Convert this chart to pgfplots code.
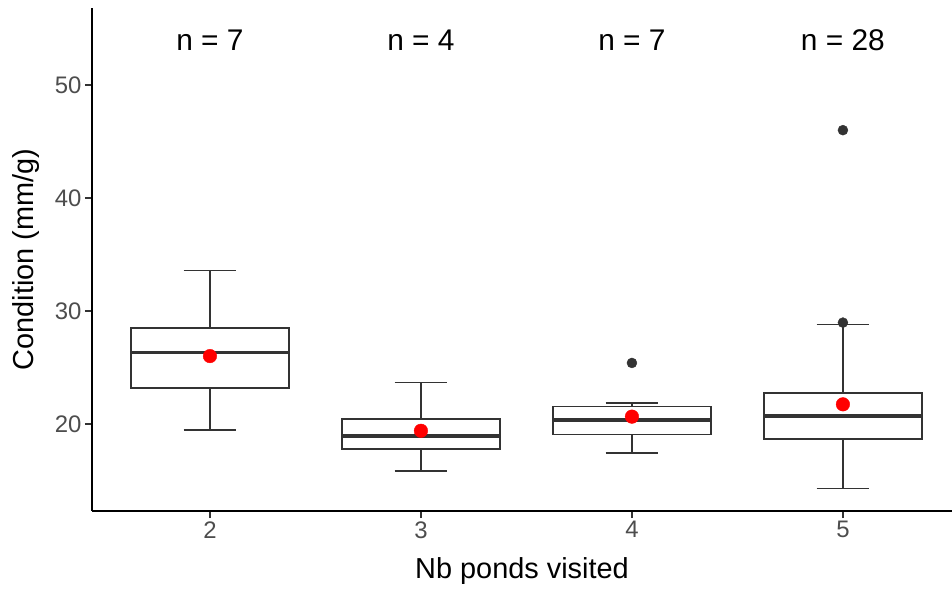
\documentclass[border=0pt]{standalone}
\usepackage{fontspec}
\setmainfont{Liberation Sans}
\usepackage{pgfplots}
\pgfplotsset{compat=1.18}
\definecolor{cdark}{HTML}{333333}
\definecolor{cgray}{HTML}{4D4D4D}
\pgfplotsset{ln/.style={cdark, line width=1.7bp, no markers}}
\begin{document}
\begin{tikzpicture}
\begin{axis}[
  width=860bp, height=503bp, scale only axis,
  xmin=1.441, xmax=5.517, ymin=12.30, ymax=56.81,
  axis lines=left,
  axis line style={-, black, line width=1.2bp},
  xtick={2,3,4,5}, ytick={20,30,40,50},
  tick align=outside, major tick length=7bp,
  tick style={cdark, line width=1.2bp},
  ticklabel style={font=\fontsize{24}{28}\selectfont, text=cgray},
  /pgf/number format/assume math mode=true,
  clip=false,
]
% group 2
\addplot[ln] coordinates {(2,28.47) (2,33.59)};
\addplot[ln] coordinates {(2,23.19) (2,19.47)};
\addplot[ln] coordinates {(1.875,33.59) (2.125,33.59)};
\addplot[ln] coordinates {(1.875,19.47) (2.125,19.47)};
\addplot[ln] coordinates {(1.625,23.19) (2.375,23.19) (2.375,28.47) (1.625,28.47)} -- cycle;
% group 3
\addplot[ln] coordinates {(3,20.44) (3,23.66)};
\addplot[ln] coordinates {(3,17.79) (3,15.87)};
\addplot[ln] coordinates {(2.875,23.66) (3.125,23.66)};
\addplot[ln] coordinates {(2.875,15.87) (3.125,15.87)};
\addplot[ln] coordinates {(2.625,17.79) (3.375,17.79) (3.375,20.44) (2.625,20.44)} -- cycle;
% group 4
\addplot[ln] coordinates {(4,21.56) (4,21.88)};
\addplot[ln] coordinates {(4,19.08) (4,17.46)};
\addplot[ln] coordinates {(3.875,21.88) (4.125,21.88)};
\addplot[ln] coordinates {(3.875,17.46) (4.125,17.46)};
\addplot[ln] coordinates {(3.625,19.08) (4.375,19.08) (4.375,21.56) (3.625,21.56)} -- cycle;
% group 5
\addplot[ln] coordinates {(5,22.77) (5,28.79)};
\addplot[ln] coordinates {(5,18.67) (5,14.28)};
\addplot[ln] coordinates {(4.875,28.79) (5.125,28.79)};
\addplot[ln] coordinates {(4.875,14.28) (5.125,14.28)};
\addplot[ln] coordinates {(4.625,18.67) (5.375,18.67) (5.375,22.77) (4.625,22.77)} -- cycle;
% thick medians
\addplot[cdark, line width=3.6bp] coordinates {(1.625,26.31) (2.375,26.31)};
\addplot[cdark, line width=3.6bp] coordinates {(2.625,18.96) (3.375,18.96)};
\addplot[cdark, line width=3.6bp] coordinates {(3.625,20.35) (4.375,20.35)};
\addplot[cdark, line width=3.6bp] coordinates {(4.625,20.73) (5.375,20.73)};
% outliers
\addplot[only marks, mark=*, mark size=5bp, cdark, mark options={fill=cdark, draw=cdark}] coordinates {(4,25.4) (5,28.97) (5,46.0)};
% means
\addplot[only marks, mark=*, mark size=6.8bp, red, mark options={fill=red, draw=red}] coordinates {(2,26.01) (3,19.40) (4,20.65) (5,21.74)};
% n labels
\node[font=\fontsize{30}{35}\selectfont] at (axis cs:2,54.0) {n = 7};
\node[font=\fontsize{30}{35}\selectfont] at (axis cs:3,54.0) {n = 4};
\node[font=\fontsize{30}{35}\selectfont] at (axis cs:4,54.0) {n = 7};
\node[font=\fontsize{30}{35}\selectfont] at (axis cs:5,54.0) {n = 28};
\end{axis}
\node[rotate=90, font=\fontsize{29}{34}\selectfont] at ([xshift=-66bp]current axis.west) {Condition (mm/g)};
\node[font=\fontsize{29}{34}\selectfont] at ([yshift=-60bp]current axis.south) {Nb ponds visited};
\pgfresetboundingbox
\path[use as bounding box] ([xshift=-92bp,yshift=-79bp]current axis.south west) rectangle ([yshift=8bp]current axis.north east);
\end{tikzpicture}
\end{document}
